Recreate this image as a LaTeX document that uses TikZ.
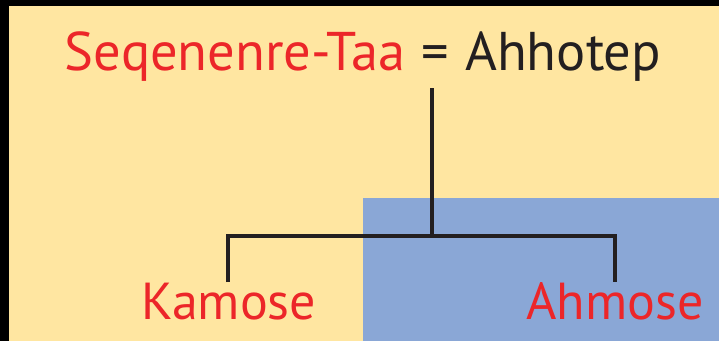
\documentclass[tikz,border=0pt]{standalone}
\usepackage{fontspec}
\setmainfont{PT Sans}
\definecolor{bgyellow}{HTML}{FFE6A1}
\definecolor{bgblue}{HTML}{8AA7D6}
\definecolor{namered}{HTML}{EC2629}
\definecolor{nameblack}{HTML}{231F20}
\tikzset{
  namelabel/.style={inner sep=0pt, anchor=base, font=\fontsize{52}{60}\selectfont},
  toplabel/.style={namelabel, font=\fontsize{54.5}{60}\selectfont},
  treeline/.style={line width=4.5pt, draw=nameblack, line join=miter}
}
\begin{document}
\begin{tikzpicture}[x=1pt,y=1pt]
\useasboundingbox (0,0) rectangle (719,341);
\fill[bgyellow] (0,0) rectangle (719,341);
\fill[bgblue] (363,0) rectangle (719,143);
\fill[black] (0,0) rectangle (9,341);
\fill[black] (0,335) rectangle (719,341);
\node[toplabel] (parents) at (363,271) {\textcolor{namered}{Seqenenre-Taa}\hspace{0.3em}\textcolor{nameblack}{=\hspace{0.3em}Ahhotep}};
\node[namelabel, text=namered] (kamose) at (229,22) {Kamose};
\node[namelabel, text=namered] (ahmose) at (615,22) {Ahmose};
\coordinate (top) at (432,253);
\coordinate (mid) at (432,105);
\coordinate (ltop) at (228,105);
\coordinate (rtop) at (615,105);
\coordinate (lend) at (228,59);
\coordinate (rend) at (615,59);
\draw[treeline] (lend) -- (ltop) -- (rtop) -- (rend);
\draw[treeline] (top) -- (mid);
\end{tikzpicture}
\end{document}
